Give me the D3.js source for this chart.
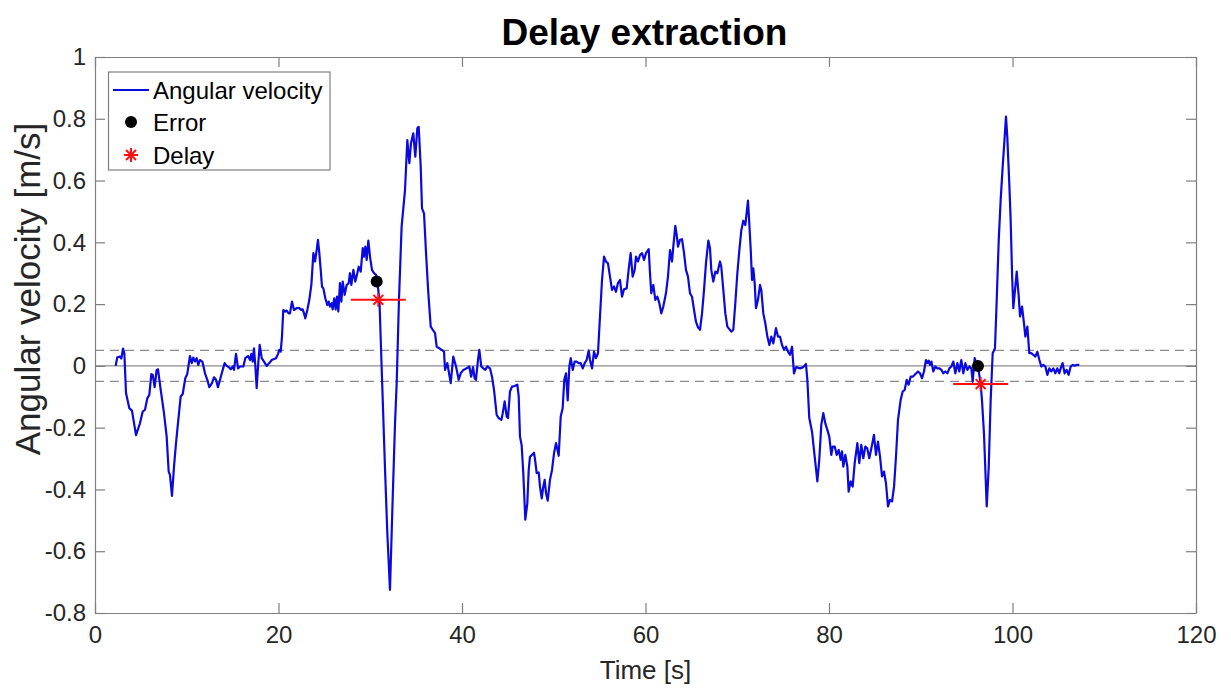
<!DOCTYPE html>
<html>
<head>
<meta charset="utf-8">
<script src="https://cdn.jsdelivr.net/npm/d3@7"></script>
<style>
  html, body { margin: 0; padding: 0; background: #fff; }
  svg { display: block; }
  text { font-family: "Liberation Sans", Arial, Helvetica, sans-serif; fill: #262626; }
</style>
</head>
<body>
<svg id="chart" width="1231" height="689"></svg>
<script>
// ---- data ----
const time = [2.25,2.43,2.72,2.87,3.05,3.2,3.38,3.74,4.03,4.47,4.9,5.2,5.45,5.7,5.92,6.14,6.29,6.5,6.72,6.87,7.16,7.52,7.81,8.03,8.17,8.39,8.61,8.83,9.08,9.34,9.56,9.84,10.06,10.35,10.54,10.71,10.9,11.08,11.26,11.44,11.7,11.99,12.24,12.46,12.75,12.97,13.19,13.4,13.7,13.92,14.13,14.35,14.57,14.79,15.0,15.15,15.37,15.59,15.8,16.17,16.38,16.68,16.9,17.04,17.19,17.33,17.48,17.62,17.77,17.95,18.17,18.42,18.71,19.0,19.26,19.51,19.73,19.95,20.09,20.24,20.38,20.52,20.74,20.89,21.11,21.25,21.47,21.69,21.98,22.27,22.49,22.64,22.78,22.92,23.14,23.36,23.58,23.8,23.98,24.16,24.3,24.45,24.6,24.74,24.89,25.1,25.32,25.47,25.61,25.8,25.9,26.08,26.23,26.38,26.52,26.7,26.85,27.0,27.21,27.43,27.65,27.79,27.94,28.16,28.37,28.59,28.74,28.96,29.18,29.32,29.46,29.61,29.79,29.97,30.19,30.41,30.63,30.77,31.0,31.24,31.6,31.86,32.15,32.44,32.7,32.88,33.13,33.42,33.79,34.04,34.26,34.44,34.69,34.91,35.13,35.28,35.5,35.64,35.86,36.08,36.33,36.59,36.81,37.06,37.24,37.53,37.79,38.04,38.15,38.4,38.77,39.05,39.35,39.64,39.86,40.15,40.51,40.8,41.0,41.2,41.38,41.52,41.74,41.89,42.1,42.32,42.54,42.76,43.05,43.27,43.49,43.78,44.0,44.29,44.44,44.65,44.87,45.01,45.23,45.45,45.74,46.03,46.18,46.32,46.5,46.68,46.9,47.12,47.27,47.41,47.63,47.85,47.99,48.14,48.36,48.5,48.69,48.86,49.01,49.16,49.34,49.59,49.81,50.03,50.25,50.54,50.76,50.97,51.15,51.34,51.52,51.7,51.85,52.07,52.28,52.5,52.72,52.94,53.16,53.37,53.59,53.81,53.95,54.17,54.39,54.6,54.82,55.04,55.26,55.48,55.69,55.91,56.13,56.35,56.57,56.78,57.0,57.22,57.44,57.66,57.95,58.16,58.38,58.6,58.82,58.96,59.18,59.4,59.62,59.84,60.05,60.35,60.49,60.63,60.85,61.07,61.29,61.51,61.72,61.94,62.23,62.45,62.67,62.89,63.03,63.25,63.4,63.54,63.76,63.98,64.2,64.41,64.63,64.85,65.07,65.29,65.5,65.72,65.94,66.16,66.38,66.59,66.85,67.03,67.17,67.39,67.61,67.83,68.12,68.26,68.48,68.7,68.92,69.14,69.35,69.57,69.79,70.01,70.23,70.45,70.66,70.88,71.17,71.31,71.47,71.61,71.75,71.9,72.04,72.26,72.48,72.62,72.84,73.06,73.28,73.5,73.71,73.93,74.22,74.44,74.66,74.88,75.1,75.31,75.53,75.75,75.97,76.18,76.42,76.84,77.2,77.49,77.64,77.85,78.15,78.44,78.73,78.94,79.16,79.38,79.6,79.82,80.03,80.25,80.4,80.62,80.84,81.06,81.27,81.42,81.56,81.78,82.0,82.14,82.36,82.58,82.8,83.09,83.3,83.52,83.74,83.96,84.17,84.39,84.69,84.9,85.12,85.34,85.56,85.78,85.99,86.21,86.43,86.65,86.87,87.09,87.3,87.52,87.81,88.03,88.25,88.47,88.68,88.9,89.12,89.34,89.56,89.7,89.92,90.14,90.35,90.57,90.72,90.87,91.01,91.16,91.37,91.59,91.81,92.03,92.25,92.46,92.68,92.9,93.12,93.34,93.55,93.77,93.99,94.2,94.42,94.64,94.86,95.08,95.3,95.51,95.66,95.88,96.1,96.24,96.53,96.67,96.89,97.19,97.41,97.62,97.84,98.09,98.28,98.5,98.71,98.93,99.15,99.29,99.43,99.65,99.8,99.95,100.09,100.31,100.46,100.68,100.82,101.04,101.25,101.4,101.62,101.83,102.05,102.27,102.49,102.71,102.93,103.14,103.36,103.58,103.8,104.01,104.23,104.45,104.67,104.88,105.1,105.25,105.46,105.68,105.9,106.12,106.34,106.56,106.78,107.0,107.28];
const velocity = [0,0.028,0.03,0.024,0.056,0.041,-0.088,-0.137,-0.145,-0.224,-0.186,-0.148,-0.142,-0.105,-0.094,-0.027,-0.029,-0.069,-0.013,-0.011,-0.078,-0.153,-0.229,-0.342,-0.353,-0.421,-0.326,-0.25,-0.175,-0.099,-0.091,-0.04,-0.026,0.032,0.009,0.027,0.014,0.025,0.003,0.019,0.014,-0.024,-0.045,-0.069,-0.056,-0.037,-0.045,-0.069,-0.037,-0.013,0.009,0,-0.004,-0.011,-0.002,-0.013,0.039,-0.008,-0.002,-0.002,0.025,0.032,0.019,0.039,0.014,0.057,-0.002,-0.072,-0.002,0.068,0.025,0.014,0,0.009,0.019,0.022,0.025,0.039,0.052,0.046,0.095,0.181,0.176,0.179,0.17,0.17,0.208,0.181,0.187,0.187,0.181,0.183,0.17,0.154,0.181,0.214,0.262,0.365,0.338,0.375,0.408,0.365,0.311,0.257,0.251,0.219,0.197,0.208,0.192,0.203,0.183,0.219,0.183,0.224,0.176,0.268,0.208,0.273,0.23,0.262,0.268,0.3,0.262,0.311,0.273,0.3,0.321,0.305,0.381,0.354,0.386,0.343,0.406,0.354,0.311,0.3,0.295,0.273,0.214,-0.002,-0.326,-0.541,-0.725,-0.434,-0.186,-0.056,0.214,0.451,0.57,0.731,0.656,0.721,0.753,0.677,0.769,0.774,0.645,0.51,0.494,0.365,0.235,0.127,0.117,0.106,0.062,0.057,0.052,0.046,-0.013,0.009,-0.056,0.03,-0.002,-0.045,-0.024,-0.013,-0.008,-0.002,-0.035,-0.004,-0.04,-0.045,0.019,0.052,-0.002,-0.008,-0.013,-0.002,-0.008,-0.035,-0.078,-0.159,-0.169,-0.175,-0.153,-0.115,-0.164,-0.169,-0.083,-0.067,-0.065,-0.061,-0.099,-0.229,-0.256,-0.347,-0.498,-0.445,-0.337,-0.294,-0.288,-0.281,-0.31,-0.347,-0.345,-0.391,-0.429,-0.391,-0.369,-0.412,-0.436,-0.369,-0.337,-0.283,-0.25,-0.291,-0.164,-0.137,-0.045,-0.024,-0.112,-0.002,0.025,-0.013,0.014,0.014,0.009,0.009,-0.008,0.009,0.019,0.05,0.019,-0.008,0.046,0.025,0.041,0.16,0.278,0.354,0.338,0.332,0.289,0.246,0.257,0.24,0.268,0.278,0.224,0.248,0.251,0.311,0.365,0.289,0.311,0.354,0.338,0.359,0.365,0.343,0.365,0.378,0.3,0.235,0.262,0.214,0.224,0.203,0.17,0.192,0.235,0.289,0.375,0.338,0.386,0.453,0.424,0.386,0.408,0.41,0.365,0.311,0.289,0.235,0.224,0.181,0.143,0.125,0.117,0.17,0.246,0.332,0.406,0.381,0.311,0.273,0.305,0.3,0.338,0.321,0.246,0.17,0.127,0.119,0.111,0.117,0.203,0.3,0.375,0.44,0.47,0.456,0.535,0.462,0.375,0.278,0.316,0.268,0.187,0.214,0.262,0.246,0.17,0.138,0.095,0.068,0.095,0.073,0.122,0.095,0.095,0.068,0.052,0.062,0.046,0.036,0.062,-0.024,-0.004,-0.008,-0.004,0.006,-0.045,-0.169,-0.213,-0.294,-0.374,-0.304,-0.191,-0.153,-0.186,-0.207,-0.229,-0.288,-0.261,-0.261,-0.288,-0.272,-0.304,-0.277,-0.326,-0.288,-0.326,-0.407,-0.374,-0.391,-0.315,-0.25,-0.315,-0.256,-0.299,-0.261,-0.267,-0.299,-0.256,-0.223,-0.288,-0.245,-0.294,-0.358,-0.342,-0.38,-0.455,-0.434,-0.439,-0.391,-0.294,-0.175,-0.11,-0.083,-0.078,-0.045,-0.061,-0.035,-0.035,-0.029,-0.022,-0.018,-0.024,-0.04,-0.018,0.019,0.009,0.017,0.003,0.014,-0.018,-0.002,-0.008,-0.008,-0.013,-0.024,-0.018,-0.024,-0.008,-0.002,0.014,-0.024,0.009,-0.018,0.019,-0.024,0.009,-0.013,-0.002,-0.008,-0.051,0.025,0.003,-0.002,-0.059,-0.11,-0.218,-0.455,-0.326,-0.11,0.041,0.057,0.214,0.408,0.537,0.645,0.742,0.807,0.742,0.591,0.472,0.3,0.187,0.257,0.305,0.224,0.16,0.192,0.138,0.095,0.127,0.041,0.041,0.036,0.03,0.046,0.019,-0.002,0.003,-0.002,-0.029,-0.008,-0.018,-0.008,-0.024,-0.008,-0.024,-0.008,0.009,-0.024,-0.013,-0.029,-0.002,0.003,0.001,0.003,0.003];
const errorTime = [30.7, 96.24];
const errorValue = [0.273, 0.0];
const delayTime = [30.88, 96.53];
const delayValue = [0.214, -0.059];
const delayWindow = 3;          // half-width of the red delay bar [s]
const thresholdLevels = [0.05, -0.05];
const xTicks = [0, 20, 40, 60, 80, 100, 120];
const yTicks = [-0.8, -0.6, -0.4, -0.2, 0, 0.2, 0.4, 0.6, 0.8, 1];
const yTickLabels = ["-0.8", "-0.6", "-0.4", "-0.2", "0", "0.2", "0.4", "0.6", "0.8", "1"];
const legendLabels = ["Angular velocity", "Error", "Delay"];

// ---- layout ----
const W = 1231, H = 689;
const L = 95, R = 1196, T = 57, B = 613;
const svg = d3.select("#chart");
const x = d3.scaleLinear().domain([0, 120]).range([L, R]);
const y = d3.scaleLinear().domain([-0.8, 1]).range([B, T]);

const blue = "#0a0ae0", red = "#ff1010", axisCol = "#262626", frameCol = "#7f7f7f";

svg.append("rect").attr("x", 0).attr("y", 0).attr("width", W).attr("height", H).attr("fill", "#fff");
svg.append("rect").attr("x", L).attr("y", T).attr("width", R - L).attr("height", B - T).attr("fill", "#fff");

// reference lines
svg.append("line").attr("x1", L).attr("x2", R).attr("y1", y(0)).attr("y2", y(0))
  .attr("stroke", "#8c8c8c").attr("stroke-width", 1.3);
svg.selectAll(".thr").data(thresholdLevels).enter().append("line")
  .attr("x1", L).attr("x2", R).attr("y1", d => y(d)).attr("y2", d => y(d))
  .attr("stroke", "#8c8c8c").attr("stroke-width", 1.3).attr("stroke-dasharray", "9,6");

// signal
const pts = time.map((t, i) => ({ t, v: velocity[i] }));
svg.append("path").datum(pts)
  .attr("d", d3.line().x(d => x(d.t)).y(d => y(d.v)))
  .attr("fill", "none").attr("stroke", blue).attr("stroke-width", 2.2).attr("stroke-linejoin", "round");

// error points
svg.selectAll(".err").data(errorTime).enter().append("circle")
  .attr("cx", d => x(d)).attr("cy", (d, i) => y(errorValue[i])).attr("r", 6).attr("fill", "#000");

// delay bars + asterisks
function asterisk(g, cx, cy, s) {
  const d = s * 0.7071;
  const segs = [[-s, 0, s, 0], [0, -s, 0, s], [-d, -d, d, d], [-d, d, d, -d]];
  segs.forEach(a => g.append("line").attr("x1", cx + a[0]).attr("y1", cy + a[1])
    .attr("x2", cx + a[2]).attr("y2", cy + a[3]).attr("stroke", red).attr("stroke-width", 2));
}
delayTime.forEach((t, i) => {
  svg.append("line").attr("x1", x(t - delayWindow)).attr("x2", x(t + delayWindow))
    .attr("y1", y(delayValue[i])).attr("y2", y(delayValue[i]))
    .attr("stroke", red).attr("stroke-width", 2);
  asterisk(svg, x(t), y(delayValue[i]), 7);
});

// axes
function styleAxis(g) {
  g.selectAll("path").attr("stroke", frameCol).attr("stroke-width", 1.2);
  g.selectAll("line").attr("stroke", frameCol).attr("stroke-width", 1.2);
  g.selectAll("text").attr("fill", axisCol).style("font-size", "24px")
    .style("font-family", '"Liberation Sans", Arial, Helvetica, sans-serif');
}
svg.append("g").attr("transform", `translate(0,${B})`)
  .call(d3.axisBottom(x).tickValues(xTicks).tickSizeInner(-10).tickSizeOuter(0).tickPadding(13).tickFormat(d3.format("d")))
  .call(styleAxis);
svg.append("g").attr("transform", `translate(0,${T})`)
  .call(d3.axisTop(x).tickValues(xTicks).tickSizeInner(-10).tickSizeOuter(0).tickFormat(""))
  .call(styleAxis);
svg.append("g").attr("transform", `translate(${L},0)`)
  .call(d3.axisLeft(y).tickValues(yTicks).tickSizeInner(-10).tickSizeOuter(0).tickPadding(9)
    .tickFormat((d, i) => yTickLabels[i]))
  .call(styleAxis);
svg.append("g").attr("transform", `translate(${R},0)`)
  .call(d3.axisRight(y).tickValues(yTicks).tickSizeInner(-10).tickSizeOuter(0).tickFormat(""))
  .call(styleAxis);

// titles
svg.append("text").attr("x", (L + R) / 2 - 1).attr("y", 45).attr("text-anchor", "middle")
  .style("font-size", "37px").style("font-weight", "bold").style("fill", "#000").text("Delay extraction");
svg.append("text").attr("x", (L + R) / 2).attr("y", 679).attr("text-anchor", "middle")
  .style("font-size", "26px").text("Time [s]");
svg.append("text").attr("transform", `translate(40,289) rotate(-90)`).attr("text-anchor", "middle")
  .style("font-size", "35px").text("Angular velocity [m/s]");

// legend
const lg = svg.append("g");
lg.append("rect").attr("x", 108.5).attr("y", 72).attr("width", 221.5).attr("height", 98)
  .attr("fill", "#fff").attr("stroke", frameCol).attr("stroke-width", 1.2);
lg.append("line").attr("x1", 113).attr("x2", 149).attr("y1", 90).attr("y2", 90)
  .attr("stroke", blue).attr("stroke-width", 2.2);
lg.append("circle").attr("cx", 131).attr("cy", 122).attr("r", 6).attr("fill", "#000");
asterisk(lg, 131, 155, 7);
lg.selectAll(".lt").data(legendLabels).enter().append("text")
  .attr("x", 153).attr("y", (d, i) => 98.5 + i * 32.5)
  .style("font-size", "24px").style("fill", "#000").text(d => d);
</script>
</body>
</html>
